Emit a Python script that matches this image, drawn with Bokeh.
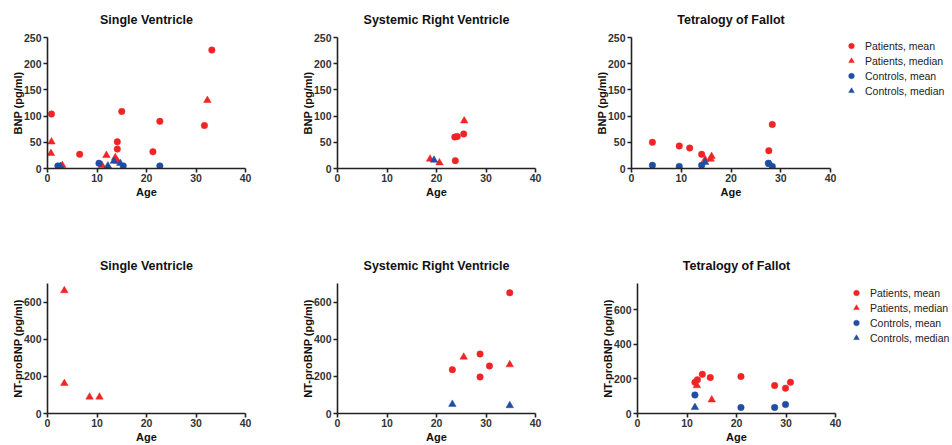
from bokeh.plotting import figure
from bokeh.models import Range1d, Legend, LegendItem, FixedTicker
from bokeh.layouts import column, row
from bokeh.embed import file_html
from bokeh.resources import INLINE

RED = "#f02424"
BLUE = "#1f4ea3"
FONT = "Liberation Sans"

# ---------------- data ----------------
age_ticks = [0, 10, 20, 30, 40]
bnp_ticks = [0, 50, 100, 150, 200, 250]
nt_ticks = [0, 200, 400, 600]

# BNP - Single Ventricle
sv_bnp_pm_age = [0.8, 6.5, 14.1, 14.1, 15.0, 21.3, 22.7, 31.7, 33.2]
sv_bnp_pm_val = [104, 27, 51, 37, 109, 32, 90, 82, 226]
sv_bnp_pmed_age = [0.8, 0.7, 3.0, 11.0, 11.9, 13.7, 14.1, 32.3]
sv_bnp_pmed_val = [51, 29, 6, 6, 25, 21, 14, 130]
sv_bnp_cm_age = [2.1, 10.4, 15.3, 22.7]
sv_bnp_cm_val = [5, 10, 5, 5]
sv_bnp_cmed_age = [2.6, 12.2, 13.4, 14.7]
sv_bnp_cmed_val = [4, 5, 14, 10]

# BNP - Systemic Right Ventricle
srv_bnp_pm_age = [23.8, 23.7, 24.2, 25.5]
srv_bnp_pm_val = [15, 60, 61, 66]
srv_bnp_pmed_age = [18.7, 20.6, 25.6]
srv_bnp_pmed_val = [18, 11, 91]
srv_bnp_cm_age = []
srv_bnp_cm_val = []
srv_bnp_cmed_age = [19.5]
srv_bnp_cmed_val = [16]

# BNP - Tetralogy of Fallot
tof_bnp_pm_age = [4.2, 9.6, 11.7, 14.1, 27.6, 28.3]
tof_bnp_pm_val = [50, 43, 39, 27, 34, 84]
tof_bnp_pmed_age = [14.8, 15.9, 16.1]
tof_bnp_pmed_val = [17, 18, 23]
tof_bnp_cm_age = [4.2, 9.6, 14.1, 27.5, 28.3]
tof_bnp_cm_val = [6, 4, 6, 10, 4]
tof_bnp_cmed_age = [14.8, 27.9]
tof_bnp_cmed_val = [12, 8]

# NT-proBNP - Single Ventricle
sv_nt_pm_age = []
sv_nt_pm_val = []
sv_nt_pmed_age = [3.4, 3.4, 8.5, 10.5]
sv_nt_pmed_val = [662, 162, 89, 89]
sv_nt_cm_age = []
sv_nt_cm_val = []
sv_nt_cmed_age = []
sv_nt_cmed_val = []

# NT-proBNP - Systemic Right Ventricle
srv_nt_pm_age = [23.2, 28.8, 28.8, 30.7, 34.8]
srv_nt_pm_val = [236, 320, 197, 256, 650]
srv_nt_pmed_age = [25.5, 34.8]
srv_nt_pmed_val = [304, 263]
srv_nt_cm_age = []
srv_nt_cm_val = []
srv_nt_cmed_age = [23.2, 34.8]
srv_nt_cmed_val = [50, 43]

# NT-proBNP - Tetralogy of Fallot
tof_nt_pm_age = [11.6, 12.1, 13.1, 14.7, 20.9, 27.7, 29.9, 30.9]
tof_nt_pm_val = [180, 194, 226, 207, 213, 161, 146, 180]
tof_nt_pmed_age = [12.0, 15.0]
tof_nt_pmed_val = [161, 79]
tof_nt_cm_age = [11.6, 20.9, 27.7, 29.9]
tof_nt_cm_val = [107, 35, 35, 52]
tof_nt_cmed_age = [11.6]
tof_nt_cmed_val = [35]

series_labels = ["Patients, mean", "Patients, median", "Controls, mean", "Controls, median"]
series_colors = [RED, RED, BLUE, BLUE]
series_markers = ["circle", "triangle", "circle", "triangle"]
series_sizes = [6.5, 7.5, 6.5, 7.5]


def make_panel(title, ylabel, ymax, yticks, data, width, height,
               left, right, top, bottom):
    p = figure(width=width, height=height, output_backend="svg",
               toolbar_location=None, tools="",
               x_range=Range1d(0, 40), y_range=Range1d(0, ymax),
               min_border_left=left, min_border_right=right,
               min_border_top=top, min_border_bottom=bottom)
    p.outline_line_color = None
    p.grid.visible = False
    p.background_fill_color = "white"
    p.border_fill_color = "white"

    p.title.text = title
    p.title.align = "center"
    p.title.text_font = FONT
    p.title.text_font_size = "12.5px"
    p.title.text_font_style = "bold"
    p.title.text_color = "#111111"
    p.title.standoff = 21

    for ax, ticks in ((p.xaxis[0], age_ticks), (p.yaxis[0], yticks)):
        ax.ticker = FixedTicker(ticks=ticks)
        ax.minor_tick_line_color = None
        ax.major_tick_in = 0
        ax.major_tick_out = 4
        ax.axis_line_width = 1.6
        ax.major_tick_line_width = 1.6
        ax.axis_line_color = "#222222"
        ax.major_tick_line_color = "#222222"
        ax.major_label_text_font = FONT
        ax.major_label_text_font_size = "10.5px"
        ax.major_label_text_font_style = "bold"
        ax.major_label_text_color = "#333333"
        ax.axis_label_text_font = FONT
        ax.axis_label_text_font_size = "11px"
        ax.axis_label_text_font_style = "bold"
        ax.axis_label_text_color = "#111111"
    p.xaxis.major_label_standoff = 1
    p.xaxis.axis_label_standoff = 1
    p.yaxis.major_label_standoff = 2
    p.yaxis.axis_label_standoff = -3
    p.xaxis.axis_label = "Age"
    p.yaxis.axis_label = ylabel

    for (xs, ys), color, marker, size in zip(data, series_colors, series_markers, series_sizes):
        p.scatter(xs, ys, marker=marker, size=size, fill_color=color,
                  line_color=color, line_width=0.5)
    return p


def make_legend(width, height, loc):
    # blank figure that only holds the legend; its sample glyphs carry NaN (no visible data)
    lf = figure(width=width, height=height, output_backend="svg",
                toolbar_location=None, tools="", title=None,
                x_axis_type=None, y_axis_type=None,
                x_range=Range1d(0, 1), y_range=Range1d(0, 1),
                min_border=0)
    lf.outline_line_color = None
    lf.grid.visible = False
    lf.background_fill_color = "white"
    lf.border_fill_color = "white"
    items = []
    for lab, color, marker in zip(series_labels, series_colors, series_markers):
        r = lf.scatter([float("nan")], [float("nan")], marker=marker, size=6,
                       fill_color=color, line_color=color, line_width=0.5)
        items.append(LegendItem(label=lab, renderers=[r], index=0))
    leg = Legend(items=items, location=loc)
    leg.border_line_color = None
    leg.background_fill_alpha = 0
    leg.padding = 0
    leg.margin = 0
    leg.spacing = 0
    leg.glyph_width = 14
    leg.glyph_height = 15
    leg.label_height = 15
    leg.label_standoff = 7
    leg.label_text_font = FONT
    leg.label_text_font_size = "10.5px"
    leg.label_text_color = "#222222"
    lf.add_layout(leg, "center")
    return lf


p1 = make_panel("Single Ventricle", "BNP (pg/ml)", 250, bnp_ticks,
                [(sv_bnp_pm_age, sv_bnp_pm_val), (sv_bnp_pmed_age, sv_bnp_pmed_val),
                 (sv_bnp_cm_age, sv_bnp_cm_val), (sv_bnp_cmed_age, sv_bnp_cmed_val)],
                290, 222, 47, 45, 37, 54)
p2 = make_panel("Systemic Right Ventricle", "BNP (pg/ml)", 250, bnp_ticks,
                [(srv_bnp_pm_age, srv_bnp_pm_val), (srv_bnp_pmed_age, srv_bnp_pmed_val),
                 (srv_bnp_cm_age, srv_bnp_cm_val), (srv_bnp_cmed_age, srv_bnp_cmed_val)],
                290, 222, 47, 45, 37, 54)
p3 = make_panel("Tetralogy of Fallot", "BNP (pg/ml)", 250, bnp_ticks,
                [(tof_bnp_pm_age, tof_bnp_pm_val), (tof_bnp_pmed_age, tof_bnp_pmed_val),
                 (tof_bnp_cm_age, tof_bnp_cm_val), (tof_bnp_cmed_age, tof_bnp_cmed_val)],
                260, 222, 51, 10, 37, 54)
l3 = make_legend(112, 222, (4, 70))
p4 = make_panel("Single Ventricle", "NT-proBNP (pg/ml)", 700, nt_ticks,
                [(sv_nt_pm_age, sv_nt_pm_val), (sv_nt_pmed_age, sv_nt_pmed_val),
                 (sv_nt_cm_age, sv_nt_cm_val), (sv_nt_cmed_age, sv_nt_cmed_val)],
                290, 223, 47, 45, 61, 32)
p5 = make_panel("Systemic Right Ventricle", "NT-proBNP (pg/ml)", 700, nt_ticks,
                [(srv_nt_pm_age, srv_nt_pm_val), (srv_nt_pmed_age, srv_nt_pmed_val),
                 (srv_nt_cm_age, srv_nt_cm_val), (srv_nt_cmed_age, srv_nt_cmed_val)],
                290, 223, 47, 45, 61, 32)
p6 = make_panel("Tetralogy of Fallot", "NT-proBNP (pg/ml)", 750, nt_ticks,
                [(tof_nt_pm_age, tof_nt_pm_val), (tof_nt_pmed_age, tof_nt_pmed_val),
                 (tof_nt_cm_age, tof_nt_cm_val), (tof_nt_cmed_age, tof_nt_cmed_val)],
                265, 223, 57, 10, 61, 32)
l6 = make_legend(107, 223, (4, 68))

layout = column(row(p1, p2, p3, l3), row(p4, p5, p6, l6))
open("out.html", "w").write(file_html(layout, INLINE))
